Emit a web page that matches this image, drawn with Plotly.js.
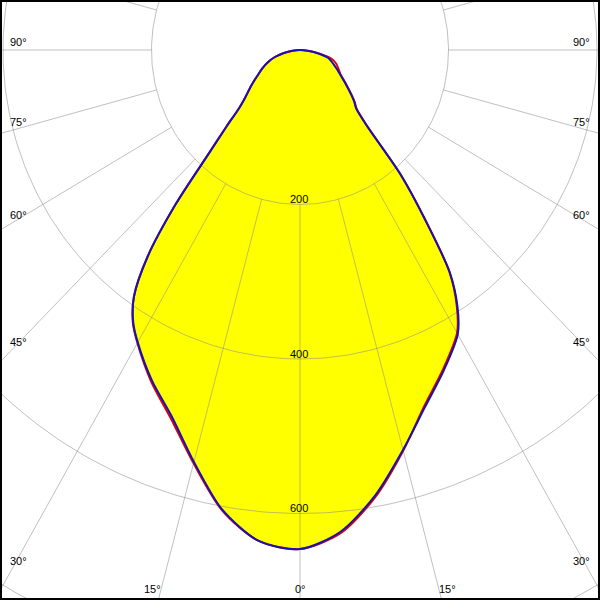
<!DOCTYPE html>
<html>
<head>
<meta charset="utf-8">
<script src="https://cdn.plot.ly/plotly-3.0.1.min.js"></script>
<style>
  html, body { margin: 0; padding: 0; background: #ffffff; overflow: hidden; }
  #chart { width: 600px; height: 600px; }
</style>
</head>
<body>
<div id="chart"></div>
<script>
// ---- Data (gamma angle in degrees, 0 = straight down; negative = left half) ----
const angles = [-90, -85, -80, -75, -70, -65, -60, -55, -50, -47.5, -45, -42.5, -40, -37.5, -35, -32.5, -30, -25, -20, -15, -10, -5,
                0, 5, 10, 15, 20, 25, 30, 32.5, 35, 37.5, 40, 42.5, 45, 47.5, 50, 55, 60, 65, 70, 75, 80, 85, 90];

// Blue curve (C90-C270 plane), cd/klm
const blueValues = [0, 10, 22, 35, 46, 56, 66, 80, 97, 111, 140, 182, 260, 337, 390, 418, 437, 472, 505, 552, 604, 638,
                    646, 626, 585, 536, 492, 458, 425, 395, 352, 277, 212, 134, 107, 99, 90, 74, 62, 53, 46, 39, 24, 10, 0];

// Red curve (C0-C180 plane), cd/klm
const redValues  = [0, 10, 22, 35, 46, 56, 66, 80, 97, 111, 140, 182, 260, 337, 390, 419, 438, 474, 508, 554, 605, 638,
                    646, 628, 587, 537, 490, 456, 423, 393, 351, 277, 212, 135, 108, 100, 91, 75, 63, 57, 52, 44, 27, 11, 0];

// Grid definition
const gridRadii = [200, 400, 600, 800];
const radialLabels = [200, 400, 600];
const spokeAngles = [0, 15, 30, 45, 60, 75, 90, 105, 120, 135, 150, 165, 180, 195, 210, 225, 240, 255, 270, 285, 300, 315, 330, 345];
const spokeStart = 200;
const spokeEnd = 1200;

// Angle tick labels (left half, right half)
const angleLabelsLeft  = [90, 75, 60, 45, 30, 15, 0];
const angleLabelsRight = [90, 75, 60, 45, 30, 15];

// ---- helpers: polar -> cartesian (0 deg down, clockwise to the right) ----
const rad = d => d * Math.PI / 180;
function toXY(r, deg) { return [r * Math.sin(rad(deg)), -r * Math.cos(rad(deg))]; }
function curve(angs, vals) {
  const xs = [], ys = [];
  for (let i = 0; i < angs.length; i++) { const p = toXY(vals[i], angs[i]); xs.push(p[0]); ys.push(p[1]); }
  return { x: xs, y: ys };
}

// grid traces
const gx = [], gy = [];
gridRadii.forEach(r => {
  for (let a = 0; a <= 360; a += 1) { const p = toXY(r, a); gx.push(p[0]); gy.push(p[1]); }
  gx.push(null); gy.push(null);
});
spokeAngles.forEach(a => {
  const p0 = toXY(spokeStart, a), p1 = toXY(spokeEnd, a);
  gx.push(p0[0], p1[0], null); gy.push(p0[1], p1[1], null);
});

const blue = curve(angles, blueValues);
const red = curve(angles, redValues);

const traces = [
  { x: blue.x, y: blue.y, mode: 'lines', fill: 'toself', fillcolor: '#ffff00',
    line: { width: 0, color: 'rgba(0,0,0,0)', shape: 'spline', smoothing: 0.8 }, hoverinfo: 'skip', showlegend: false },
  { x: gx, y: gy, mode: 'lines', line: { color: 'rgba(140,140,140,0.55)', width: 1 },
    hoverinfo: 'skip', showlegend: false },
  { x: red.x, y: red.y, mode: 'lines', line: { color: '#e00000', width: 2, shape: 'spline', smoothing: 0.8 }, showlegend: false, name: 'C0-C180' },
  { x: blue.x, y: blue.y, mode: 'lines', line: { color: '#1414b4', width: 2, shape: 'spline', smoothing: 0.8 }, showlegend: false, name: 'C90-C270' }
];

const font = { family: 'Liberation Sans, Arial, sans-serif', size: 11, color: '#000000' };
const annotations = [];
radialLabels.forEach(r => {
  annotations.push({ x: 0, y: -r, xref: 'x', yref: 'y', text: String(r), showarrow: false,
    xanchor: 'center', yanchor: 'middle', yshift: 5, xshift: -1, font: font });
});
// label placement near the picture border (pixel positions in a 600x600 frame)
const leftPos  = [[18, 42], [18, 122], [18, 215], [18, 342], [18, 561], [152, 589], [300, 589]];
const rightPos = [[581, 42], [581, 122], [581, 215], [581, 342], [581, 561], [447, 589]];
angleLabelsLeft.forEach((v, i) => {
  annotations.push({ x: leftPos[i][0] / 600, y: 1 - leftPos[i][1] / 600, xref: 'paper', yref: 'paper',
    text: v + '°', showarrow: false, xanchor: 'center', yanchor: 'middle', font: font });
});
angleLabelsRight.forEach((v, i) => {
  annotations.push({ x: rightPos[i][0] / 600, y: 1 - rightPos[i][1] / 600, xref: 'paper', yref: 'paper',
    text: v + '°', showarrow: false, xanchor: 'center', yanchor: 'middle', font: font });
});

const layout = {
  width: 600, height: 600,
  margin: { l: 0, r: 0, t: 0, b: 0, pad: 0 },
  paper_bgcolor: '#ffffff', plot_bgcolor: '#ffffff',
  showlegend: false,
  xaxis: { range: [-404.04, 404.04], visible: false, showgrid: false, zeroline: false, fixedrange: true },
  yaxis: { range: [-712.0, 64.72], visible: false, showgrid: false, zeroline: false, fixedrange: true },
  annotations: annotations,
  shapes: [{ type: 'rect', xref: 'paper', yref: 'paper', x0: 0, x1: 1, y0: 0, y1: 1,
    line: { color: '#000000', width: 4 }, fillcolor: 'rgba(0,0,0,0)', layer: 'above' }]
};

Plotly.newPlot('chart', traces, layout, { staticPlot: true, displayModeBar: false });
</script>
</body>
</html>
